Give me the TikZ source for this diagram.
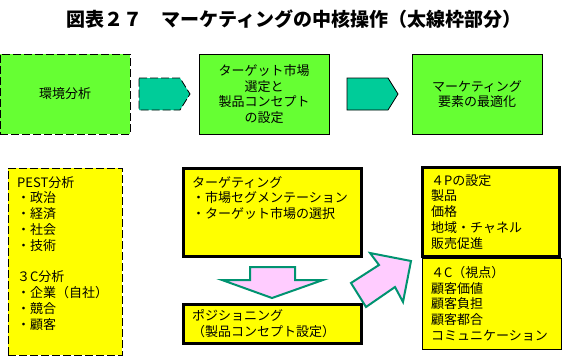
\documentclass[tikz,border=0pt]{standalone}
\usepackage{fontspec}
\setmainfont{Noto Sans CJK JP}
\definecolor{boxgreen}{HTML}{66FF33}
\definecolor{arrowteal}{HTML}{00CC99}
\definecolor{boxyellow}{HTML}{FFFF00}
\definecolor{arrowpink}{HTML}{FFCCFF}
\definecolor{arrowedge}{HTML}{009370}
\tikzset{
  bodytext/.style={font=\fontsize{13}{15.8}\selectfont},
  stagebox/.style={draw=black, line width=0.8pt, fill=boxgreen, minimum width=130pt,
    minimum height=80pt, inner sep=0pt, align=center, bodytext},
  yellowbox/.style={draw=black, fill=boxyellow, inner sep=0pt},
  thickbox/.style={yellowbox, line width=3pt},
  thinbox/.style={yellowbox, line width=0.8pt},
  boxdash/.style={dash pattern=on 8pt off 3pt},
  listtext/.style={anchor=north west, align=left, inner sep=0pt, bodytext},
  blockarrow/.style={fill=arrowteal, draw=black, line width=0.8pt},
  pinkarrow/.style={fill=arrowpink, draw=arrowedge, line width=2pt, line join=miter}
}
\begin{document}
\begin{tikzpicture}[x=1pt,y=-1pt]
    \useasboundingbox (0,0) rectangle (563,356);
    % title
    \node[font=\fontsize{19}{19}\selectfont\bfseries] (title) at (294,19) {図表２７　マーケティングの中核操作（太線枠部分）};
    % top row
    \node[stagebox, boxdash] (env) at (65,94) {環境分析};
    \node[stagebox] (concept) at (264,94) {ターゲット市場\\選定と\\製品コンセプト\\の設定};
    \node[stagebox] (mix) at (477,94) {マーケティング\\要素の最適化};
    \draw[blockarrow, boxdash] (139,78) -- (180,78) -- (190,94) -- (180,110) -- (139,110) -- cycle;
    \draw[blockarrow] (347,78) -- (388,78) -- (398,94) -- (388,110) -- (347,110) -- cycle;
    % bottom row
    \node[thinbox, boxdash, minimum width=114pt, minimum height=187pt] (pest) at (65,261.5) {};
    \node[listtext] (pesttext) at (17,176) {PEST分析\\・政治\\・経済\\・社会\\・技術\\[15.5pt]３C分析\\・企業（自社）\\・競合\\・顧客};
    \node[thickbox, minimum width=178pt, minimum height=88pt] (target) at (272.5,212.5) {};
    \node[listtext] (targettext) at (192,176) {ターゲティング\\・市場セグメンテーション\\・ターゲット市場の選択};
    \node[thickbox, minimum width=178pt, minimum height=39pt] (position) at (272.5,324) {};
    \node[listtext] (positiontext) at (192,309) {ポジショニング\\（製品コンセプト設定）};
    \node[thinbox, minimum width=139pt, minimum height=91pt] (fourc) at (491.5,303.5) {};
    \node[thickbox, minimum width=137pt, minimum height=89pt] (fourp) at (491,212) {};
    \node[listtext] (fourptext) at (431,174) {４Pの設定\\製品\\価格\\地域・チャネル\\販売促進};
    \node[listtext] (fourctext) at (431,266) {４C（視点）\\顧客価値\\顧客負担\\顧客都合\\コミュニケーション};
    % block arrows between the boxes
    \draw[pinkarrow] (250,267) -- (295,267) -- (295,280) -- (323,280) -- (272,298) -- (222,280) -- (250,280) -- cycle;
    \draw[pinkarrow] (351,283) -- (379,265) -- (370,253) -- (411,261) -- (403,302) -- (395,287) -- (366,307) -- cycle;
\end{tikzpicture}
\end{document}
